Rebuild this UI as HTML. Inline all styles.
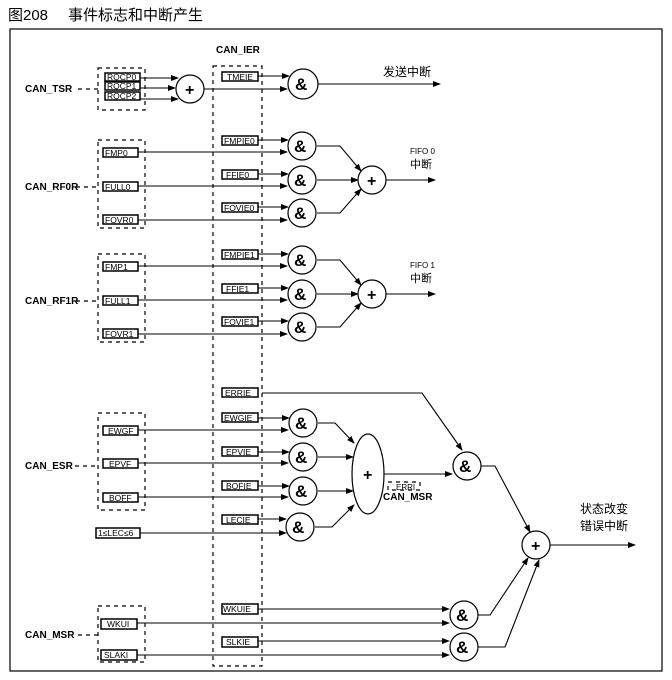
<!DOCTYPE html>
<html><head><meta charset="utf-8"><style>
body{margin:0;background:#fff;}
svg{display:block;font-family:"Liberation Sans","Noto Sans CJK SC",sans-serif;}
.b{fill:#fff;stroke:#000;stroke-width:1.2}
.bx{fill:#fff;stroke:#000;stroke-width:1.5}
.d{fill:none;stroke:#000;stroke-width:1.2;stroke-dasharray:4,4}
.l{fill:none;stroke:#000;stroke-width:1.1}
.t{font-size:8.5px}
.lb{font-size:10px;font-weight:bold}
.amp{font-size:17px;font-weight:bold}
</style></head><body>
<svg width="672" height="680" viewBox="0 0 672 680">
<defs><marker id="a" markerWidth="8" markerHeight="6" refX="7" refY="3" orient="auto" markerUnits="userSpaceOnUse"><path d="M0,0L8,3L0,6z"/></marker></defs>
<text x="8" y="20" font-size="15">图208</text>
<text x="68" y="20" font-size="15">事件标志和中断产生</text>
<rect x="10" y="29" width="652" height="642" fill="none" stroke="#000" stroke-width="1.2"/>
<text x="216" y="53" class="lb">CAN_IER</text>
<rect x="213" y="66" width="49" height="600" class="d"/>

<!-- TSR -->
<text x="25" y="92" class="lb">CAN_TSR</text>
<line x1="78" y1="89" x2="98" y2="89" class="d"/>
<rect x="98" y="68" width="47" height="42" class="d"/>
<g class="t">
<rect x="105" y="73" width="35" height="8" class="bx"/><text x="107" y="80">RQCP0</text>
<rect x="105" y="82" width="35" height="8" class="bx"/><text x="107" y="89">RQCP1</text>
<rect x="105" y="92" width="35" height="8" class="bx"/><text x="107" y="99">RQCP2</text>
</g>
<g class="l" marker-end="url(#a)">
<line x1="140" y1="78" x2="178" y2="78"/><line x1="140" y1="88" x2="175" y2="88"/><line x1="140" y1="99" x2="178" y2="99"/>
<line x1="204" y1="89" x2="287" y2="89"/><line x1="258" y1="76" x2="289" y2="76"/>
<line x1="318" y1="84" x2="440" y2="84"/>
</g>
<circle cx="190" cy="89" r="14" class="b"/><text x="185" y="95" font-size="16" font-weight="bold">+</text>
<rect x="222" y="72" width="36" height="9" class="bx"/><text x="227" y="80" class="t">TMEIE</text>
<circle cx="303" cy="84" r="15" class="b"/><text x="295" y="90" class="amp">&amp;</text>
<text x="383" y="76" font-size="12">发送中断</text>

<!-- RF0R / RF1R -->
<g id="rf">
<rect x="98" y="140" width="47" height="88" class="d"/>
<g class="t">
<rect x="103" y="148" width="35" height="9" class="bx"/>
<rect x="103" y="182" width="35" height="9" class="bx"/>
<rect x="103" y="215" width="35" height="9" class="bx"/>
<rect x="222" y="136" width="36" height="9" class="bx"/>
<rect x="222" y="170" width="36" height="9" class="bx"/>
<rect x="222" y="203" width="36" height="9" class="bx"/>
</g>
<g class="l" marker-end="url(#a)">
<line x1="138" y1="152" x2="287" y2="152"/><line x1="138" y1="186" x2="287" y2="186"/><line x1="138" y1="220" x2="287" y2="220"/>
<line x1="258" y1="140" x2="288" y2="140"/><line x1="258" y1="174" x2="288" y2="174"/><line x1="258" y1="207" x2="288" y2="207"/>
<polyline points="317,146 340,146 361,171"/><line x1="317" y1="180" x2="358" y2="180"/><polyline points="317,213 340,213 361,189"/>
<line x1="386" y1="180" x2="435" y2="180"/>
</g>
<circle cx="302" cy="146" r="14" class="b"/><text x="294" y="152" class="amp">&amp;</text>
<circle cx="302" cy="180" r="14" class="b"/><text x="294" y="186" class="amp">&amp;</text>
<circle cx="302" cy="213" r="14" class="b"/><text x="294" y="219" class="amp">&amp;</text>
<circle cx="372" cy="180" r="14" class="b"/><text x="367" y="186" font-size="16" font-weight="bold">+</text>
<line x1="76" y1="187" x2="98" y2="187" class="d"/>
</g>
<use href="#rf" transform="translate(0,114)"/>
<g class="t">
<text x="105" y="156">FMP0</text><text x="105" y="190">FULL0</text><text x="105" y="223">FOVR0</text>
<text x="224" y="144">FMPIE0</text><text x="226" y="178">FFIE0</text><text x="224" y="211">FOVIE0</text>
<text x="105" y="270">FMP1</text><text x="105" y="304">FULL1</text><text x="105" y="337">FOVR1</text>
<text x="224" y="258">FMPIE1</text><text x="226" y="292">FFIE1</text><text x="224" y="325">FOVIE1</text>
</g>
<text x="25" y="190" class="lb">CAN_RF0R</text>
<text x="25" y="304" class="lb">CAN_RF1R</text>
<text x="410" y="154" font-size="8">FIFO 0</text><text x="410" y="168" font-size="11">中断</text>
<text x="410" y="268" font-size="8">FIFO 1</text><text x="410" y="282" font-size="11">中断</text>

<!-- ESR -->
<text x="25" y="469" class="lb">CAN_ESR</text>
<line x1="75" y1="466" x2="98" y2="466" class="d"/>
<rect x="98" y="413" width="47" height="97" class="d"/>
<g class="t">
<rect x="103" y="426" width="35" height="9" class="bx"/><text x="108" y="434">EWGF</text>
<rect x="103" y="459" width="35" height="9" class="bx"/><text x="109" y="467">EPVF</text>
<rect x="103" y="493" width="35" height="9" class="bx"/><text x="109" y="501">BOFF</text>
<rect x="96" y="528" width="44" height="10" class="bx"/><text x="98" y="536">1≤LEC≤6</text>
<rect x="222" y="388" width="36" height="9" class="bx"/><text x="225" y="396">ERRIE</text>
<rect x="222" y="413" width="36" height="9" class="bx"/><text x="224" y="421">EWGIE</text>
<rect x="222" y="447" width="36" height="9" class="bx"/><text x="226" y="455">EPVIE</text>
<rect x="222" y="481" width="36" height="9" class="bx"/><text x="226" y="489">BOFIE</text>
<rect x="222" y="515" width="36" height="9" class="bx"/><text x="226" y="523">LECIE</text>
</g>
<g class="l" marker-end="url(#a)">
<line x1="138" y1="430" x2="288" y2="430"/><line x1="138" y1="463" x2="288" y2="463"/><line x1="138" y1="497" x2="288" y2="497"/><line x1="140" y1="533" x2="286" y2="533"/>
<line x1="258" y1="418" x2="289" y2="418"/><line x1="258" y1="452" x2="289" y2="452"/><line x1="258" y1="486" x2="289" y2="486"/><line x1="258" y1="519" x2="286" y2="519"/>
<polyline points="318,423 335,423 354,443"/><line x1="318" y1="457" x2="353" y2="457"/><line x1="318" y1="491" x2="353" y2="491"/><polyline points="315,527 332,527 354,505"/>
<polyline points="262,393 422,393 462,450"/>
<line x1="384" y1="474" x2="452" y2="474"/>
<polyline points="481,466 495,466 530,532"/>
<line x1="550" y1="545" x2="635" y2="545"/>
</g>
<circle cx="303" cy="423" r="14" class="b"/><text x="295" y="429" class="amp">&amp;</text>
<circle cx="303" cy="457" r="14" class="b"/><text x="295" y="463" class="amp">&amp;</text>
<circle cx="303" cy="491" r="14" class="b"/><text x="295" y="497" class="amp">&amp;</text>
<circle cx="300" cy="527" r="14" class="b"/><text x="292" y="533" class="amp">&amp;</text>
<ellipse cx="368" cy="474" rx="16" ry="40" class="b"/><text x="363" y="480" font-size="16" font-weight="bold">+</text>
<rect x="388" y="482" width="32" height="8" class="d" stroke-width="1"/>
<text x="396" y="490" font-size="8">ERRI</text>
<text x="383" y="500" class="lb">CAN_MSR</text>
<circle cx="467" cy="466" r="14" class="b"/><text x="459" y="472" class="amp">&amp;</text>
<circle cx="536" cy="545" r="14" class="b"/><text x="531" y="551" font-size="16" font-weight="bold">+</text>
<text x="580" y="513" font-size="12">状态改变</text>
<text x="580" y="530" font-size="12">错误中断</text>

<!-- MSR -->
<text x="25" y="638" class="lb">CAN_MSR</text>
<line x1="78" y1="635" x2="98" y2="635" class="d"/>
<rect x="98" y="606" width="47" height="56" class="d"/>
<g class="t">
<rect x="101" y="619" width="36" height="10" class="bx"/><text x="107" y="627">WKUI</text>
<rect x="101" y="650" width="36" height="10" class="bx"/><text x="104" y="658">SLAKI</text>
<rect x="222" y="604" width="36" height="10" class="bx"/><text x="223" y="612">WKUIE</text>
<rect x="222" y="637" width="36" height="10" class="bx"/><text x="226" y="645">SLKIE</text>
</g>
<g class="l" marker-end="url(#a)">
<line x1="258" y1="609" x2="449" y2="609"/><line x1="137" y1="623" x2="449" y2="623"/>
<line x1="258" y1="641" x2="449" y2="641"/><line x1="137" y1="655" x2="449" y2="655"/>
<polyline points="477,615 490,615 528,558"/>
<polyline points="477,647 505,647 539,560"/>
</g>
<circle cx="464" cy="615" r="14" class="b"/><text x="456" y="621" class="amp">&amp;</text>
<circle cx="464" cy="647" r="14" class="b"/><text x="456" y="653" class="amp">&amp;</text>
</svg>
</body></html>
